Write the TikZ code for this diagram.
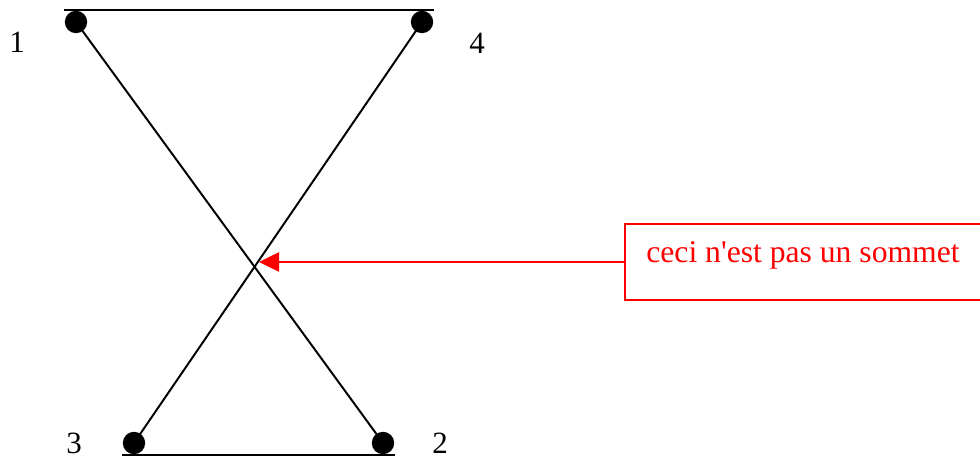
\documentclass[tikz,border=0pt]{standalone}
\usepackage{fontspec}
\setmainfont{Liberation Serif}
\usetikzlibrary{arrows.meta}

\begin{document}
\begin{tikzpicture}[x=0.025cm,y=-0.025cm,line width=1.4pt,
    vertex/.style={circle,fill=black,inner sep=0pt,minimum size=0.56cm},
    vlabel/.style={inner sep=0pt,font=\fontsize{22}{26}\selectfont},
    note/.style={draw=red,text=red,line width=1.2pt,minimum width=8.9cm,
      minimum height=1.9cm,text height=0.5cm,text depth=0.45cm,
      font=\fontsize{22.5}{26}\selectfont},
    pointer/.style={red,line width=1.3pt,-{Triangle[length=0.5cm,width=0.48cm]}}
  ]
    \useasboundingbox (0,0) rectangle (980,457);
    % the four vertices
    \node[vertex] (v1) at (76,22) {};
    \node[vertex] (v4) at (422,22) {};
    \node[vertex] (v3) at (134,443) {};
    \node[vertex] (v2) at (383,443) {};
    \node[vlabel] (l1) at (17,42) {1};
    \node[vlabel] (l4) at (477,43) {4};
    \node[vlabel] (l3) at (74,443) {3};
    \node[vlabel] (l2) at (440,443) {2};
    % edges
    \draw (v1.west |- v1.north) -- (v4.east |- v4.north);
    \draw (v3.west |- v3.south) -- (v2.east |- v2.south);
    \draw (v1.center) -- (v2.center);
    \draw (v4.center) -- (v3.center);
    % the crossing
    \node[note] (note) at (803,262) {ceci n\textquotesingle est pas un sommet};
    \coordinate (cross) at (259,262);
    \draw[pointer] (note) -- (cross);
  \end{tikzpicture}
\end{document}
